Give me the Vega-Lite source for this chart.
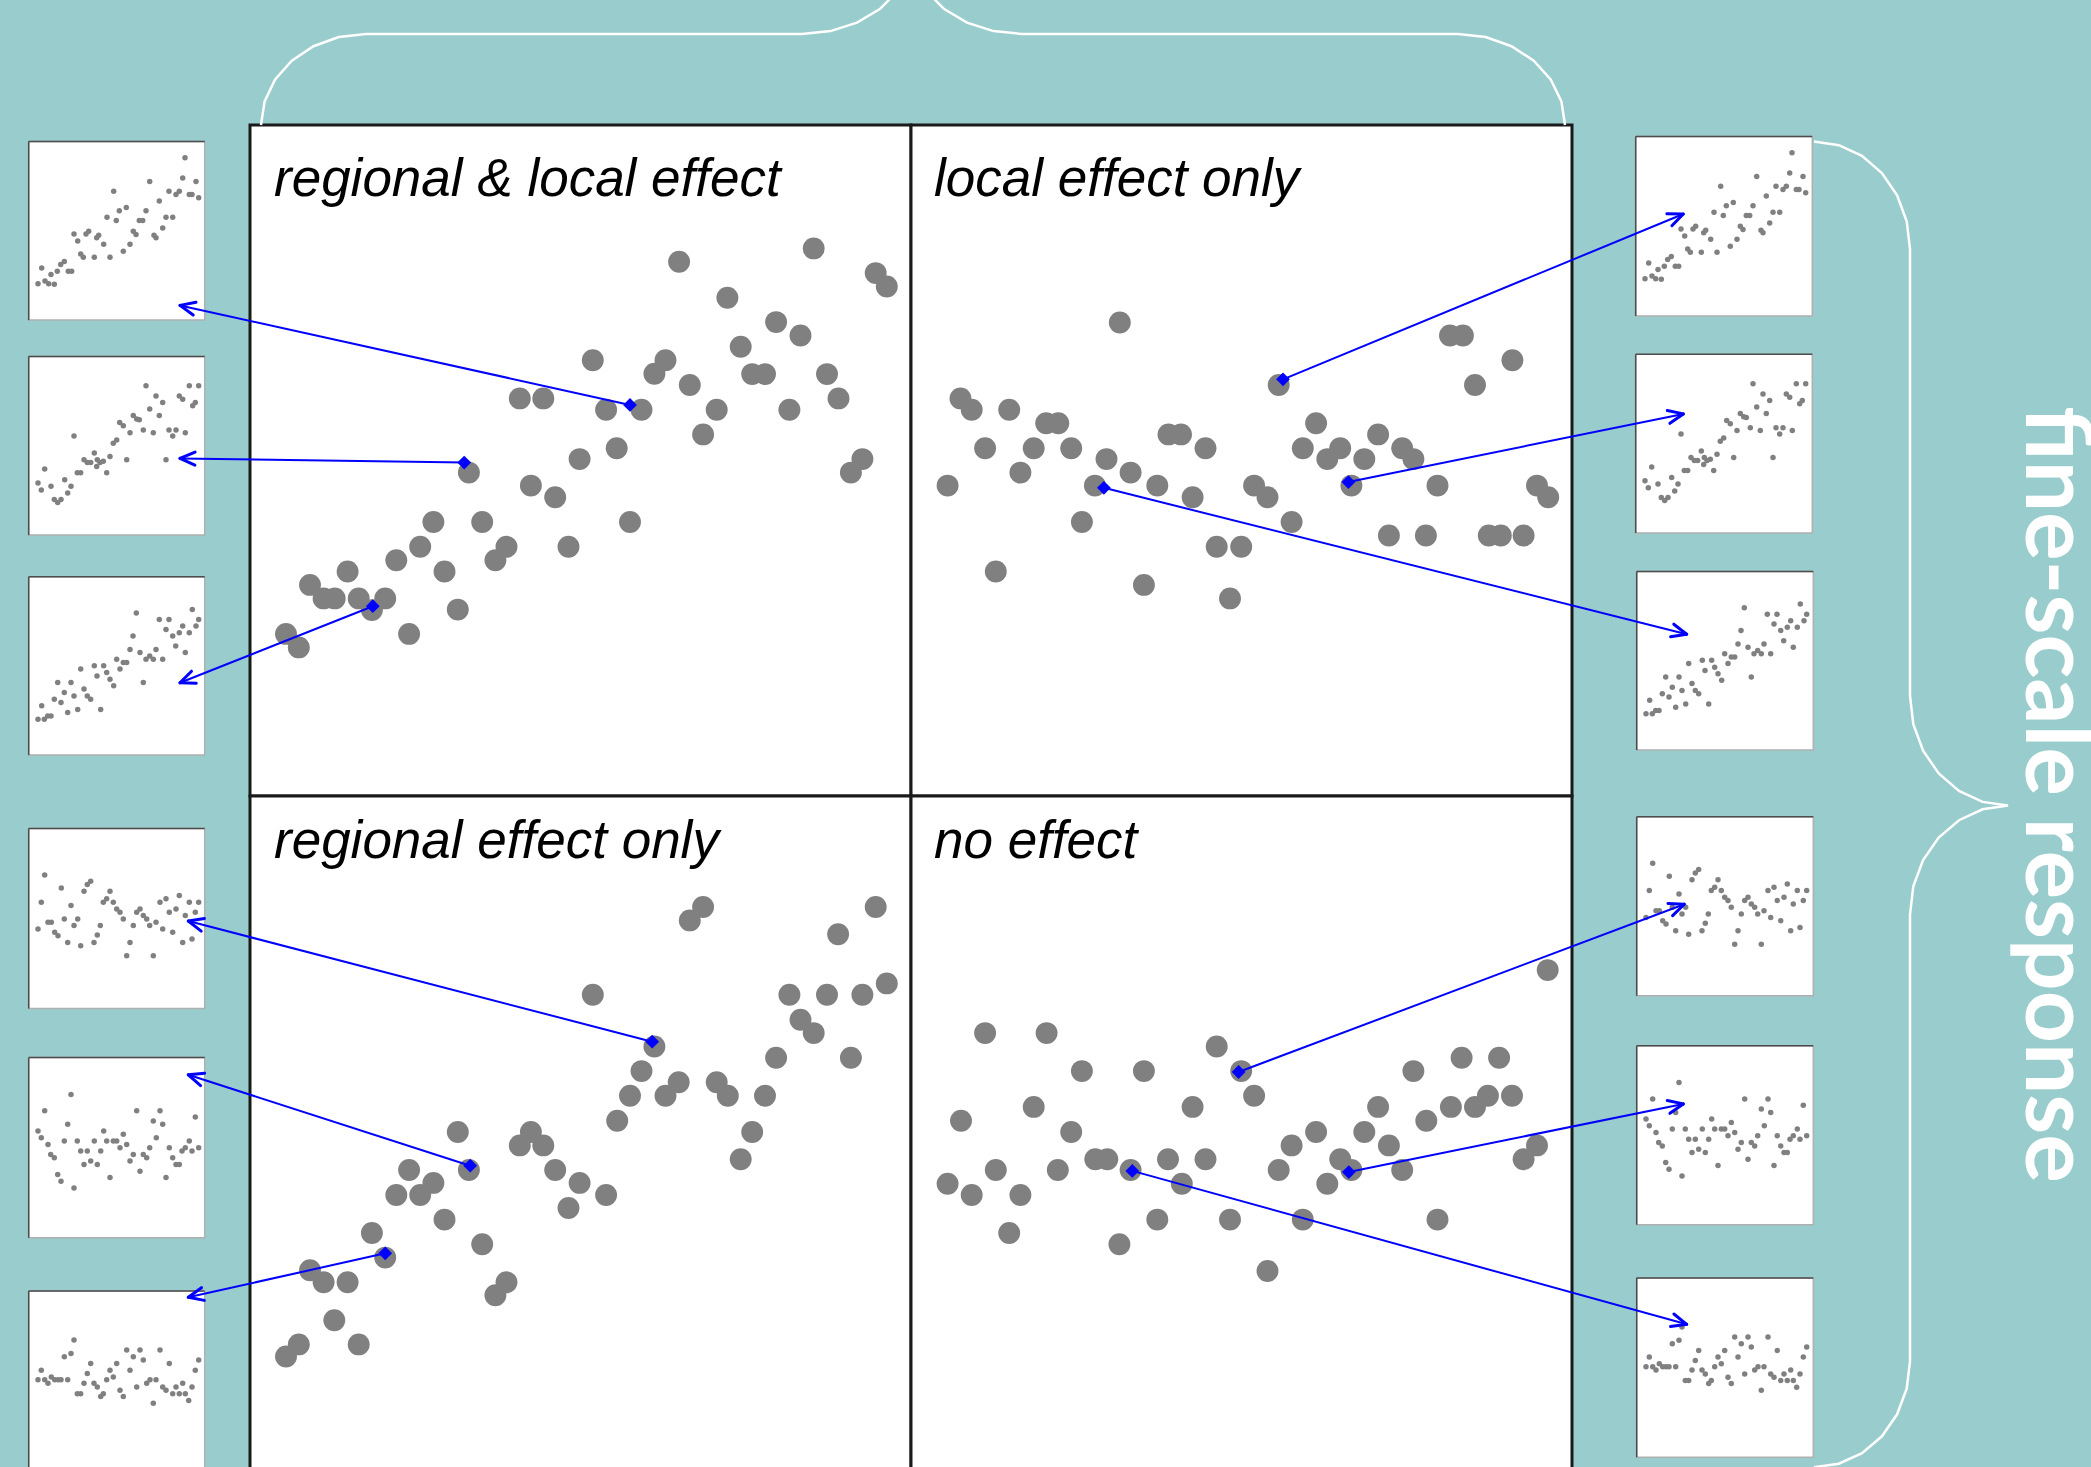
{
  "$schema": "https://vega.github.io/schema/vega-lite/v6.json",
  "width": 2091,
  "height": 1467,
  "autosize": {"type": "fit", "contains": "padding"},
  "padding": 0,
  "background": "#99CCCC",
  "config": {"view": {"stroke": null}},
  "datasets": {
    "frames": [
      {"x": 250, "x2": 911, "y": 125, "y2": 796},
      {"x": 911, "x2": 1572, "y": 125, "y2": 796},
      {"x": 250, "x2": 911, "y": 796, "y2": 1480},
      {"x": 911, "x2": 1572, "y": 796, "y2": 1480}
    ],
    "thumbs": [
      {"x": 28.7, "x2": 204.7, "y": 141.4, "y2": 320.1},
      {"x": 28.7, "x2": 204.7, "y": 356.4, "y2": 535.1},
      {"x": 28.7, "x2": 204.7, "y": 576.8, "y2": 755.1},
      {"x": 28.7, "x2": 204.7, "y": 828.4, "y2": 1008.6},
      {"x": 28.7, "x2": 204.7, "y": 1057.6, "y2": 1237.8},
      {"x": 28.7, "x2": 204.7, "y": 1291.0, "y2": 1470.0},
      {"x": 1635.7, "x2": 1812.3, "y": 136.4, "y2": 316.0},
      {"x": 1635.7, "x2": 1812.3, "y": 354.3, "y2": 533.0},
      {"x": 1636.7, "x2": 1813.3, "y": 571.4, "y2": 750.1},
      {"x": 1636.7, "x2": 1813.3, "y": 816.8, "y2": 995.8},
      {"x": 1636.7, "x2": 1813.3, "y": 1045.7, "y2": 1224.7},
      {"x": 1636.7, "x2": 1813.3, "y": 1277.9, "y2": 1457.3}
    ],
    "braces": [
      {"brace": "top", "i": 0, "x": 261, "y": 125},
      {"brace": "top", "i": 1, "x": 264.6, "y": 101.4},
      {"brace": "top", "i": 2, "x": 275.1, "y": 79.5},
      {"brace": "top", "i": 3, "x": 291.8, "y": 60.7},
      {"brace": "top", "i": 4, "x": 313.5, "y": 46.2},
      {"brace": "top", "i": 5, "x": 338.8, "y": 37.1},
      {"brace": "top", "i": 6, "x": 366, "y": 34},
      {"brace": "top", "i": 7, "x": 802, "y": 34},
      {"brace": "top", "i": 8, "x": 830.5, "y": 31.1},
      {"brace": "top", "i": 9, "x": 857, "y": 22.6},
      {"brace": "top", "i": 10, "x": 879.8, "y": 9.1},
      {"brace": "top", "i": 11, "x": 897.3, "y": -8.5},
      {"brace": "top", "i": 12, "x": 908.3, "y": -29.0},
      {"brace": "top", "i": 13, "x": 912, "y": -51},
      {"brace": "top", "i": 14, "x": 915.7, "y": -29.0},
      {"brace": "top", "i": 15, "x": 926.7, "y": -8.5},
      {"brace": "top", "i": 16, "x": 944.2, "y": 9.1},
      {"brace": "top", "i": 17, "x": 967, "y": 22.6},
      {"brace": "top", "i": 18, "x": 993.5, "y": 31.1},
      {"brace": "top", "i": 19, "x": 1022, "y": 34},
      {"brace": "top", "i": 20, "x": 1458, "y": 34},
      {"brace": "top", "i": 21, "x": 1485.7, "y": 37.1},
      {"brace": "top", "i": 22, "x": 1511.5, "y": 46.2},
      {"brace": "top", "i": 23, "x": 1533.7, "y": 60.7},
      {"brace": "top", "i": 24, "x": 1550.7, "y": 79.5},
      {"brace": "top", "i": 25, "x": 1561.4, "y": 101.4},
      {"brace": "top", "i": 26, "x": 1565, "y": 125},
      {"brace": "side", "i": 0, "x": 1814, "y": 141.5},
      {"brace": "side", "i": 1, "x": 1838.8, "y": 145.2},
      {"brace": "side", "i": 2, "x": 1862, "y": 155.9},
      {"brace": "side", "i": 3, "x": 1881.9, "y": 173.0},
      {"brace": "side", "i": 4, "x": 1897.1, "y": 195.3},
      {"brace": "side", "i": 5, "x": 1906.7, "y": 221.2},
      {"brace": "side", "i": 6, "x": 1910, "y": 249},
      {"brace": "side", "i": 7, "x": 1910, "y": 695.6},
      {"brace": "side", "i": 8, "x": 1913.3, "y": 724.1},
      {"brace": "side", "i": 9, "x": 1923.1, "y": 750.6},
      {"brace": "side", "i": 10, "x": 1938.7, "y": 773.4},
      {"brace": "side", "i": 11, "x": 1959, "y": 790.9},
      {"brace": "side", "i": 12, "x": 1982.6, "y": 801.9},
      {"brace": "side", "i": 13, "x": 2008, "y": 805.6},
      {"brace": "side", "i": 14, "x": 1982.6, "y": 809.3},
      {"brace": "side", "i": 15, "x": 1959, "y": 820.2},
      {"brace": "side", "i": 16, "x": 1938.7, "y": 837.5},
      {"brace": "side", "i": 17, "x": 1923.1, "y": 860.1},
      {"brace": "side", "i": 18, "x": 1913.3, "y": 886.4},
      {"brace": "side", "i": 19, "x": 1910, "y": 914.6},
      {"brace": "side", "i": 20, "x": 1910, "y": 1361.3},
      {"brace": "side", "i": 21, "x": 1906.7, "y": 1388.7},
      {"brace": "side", "i": 22, "x": 1897.1, "y": 1414.3},
      {"brace": "side", "i": 23, "x": 1881.9, "y": 1436.3},
      {"brace": "side", "i": 24, "x": 1862, "y": 1453.1},
      {"brace": "side", "i": 25, "x": 1838.8, "y": 1463.7},
      {"brace": "side", "i": 26, "x": 1814, "y": 1467.3}
    ],
    "dots": [
      {"x": 679.1, "y": 261.8}, {"x": 813.7, "y": 248.4}, {"x": 875.7, "y": 273.1}, {"x": 886.8, "y": 286.5},
      {"x": 727.4, "y": 297.8}, {"x": 776.1, "y": 322.1}, {"x": 800.5, "y": 335.5}, {"x": 740.7, "y": 346.8},
      {"x": 592.8, "y": 360.3}, {"x": 665.5, "y": 360.3}, {"x": 654.4, "y": 373.7}, {"x": 752.2, "y": 374.1},
      {"x": 765.0, "y": 374.1}, {"x": 827.0, "y": 374.1}, {"x": 689.8, "y": 385.0}, {"x": 519.8, "y": 398.4},
      {"x": 543.3, "y": 398.4}, {"x": 838.5, "y": 398.4}, {"x": 606.1, "y": 409.7}, {"x": 641.5, "y": 409.7},
      {"x": 716.7, "y": 409.7}, {"x": 789.4, "y": 409.7}, {"x": 703.1, "y": 434.4}, {"x": 616.7, "y": 448.3},
      {"x": 579.6, "y": 459.1}, {"x": 862.4, "y": 459.1}, {"x": 850.9, "y": 472.6}, {"x": 468.9, "y": 472.6},
      {"x": 530.9, "y": 485.6}, {"x": 555.2, "y": 497.3}, {"x": 433.4, "y": 522.0}, {"x": 482.2, "y": 522.0},
      {"x": 630.0, "y": 522.0}, {"x": 420.2, "y": 546.8}, {"x": 506.5, "y": 546.8}, {"x": 568.5, "y": 546.8},
      {"x": 495.4, "y": 560.2}, {"x": 396.3, "y": 560.2}, {"x": 347.6, "y": 571.5}, {"x": 444.5, "y": 571.5},
      {"x": 310.0, "y": 584.9}, {"x": 323.6, "y": 598.4}, {"x": 334.7, "y": 598.4}, {"x": 358.7, "y": 598.4},
      {"x": 385.2, "y": 598.4}, {"x": 371.9, "y": 610.1}, {"x": 457.8, "y": 609.6}, {"x": 286.0, "y": 633.9},
      {"x": 409.1, "y": 633.9}, {"x": 298.8, "y": 647.4},
      {"x": 1119.8, "y": 322.5}, {"x": 1450.0, "y": 335.5}, {"x": 1462.9, "y": 335.5}, {"x": 1512.4, "y": 360.3},
      {"x": 1475.0, "y": 385.0}, {"x": 1278.7, "y": 385.0}, {"x": 960.5, "y": 398.4}, {"x": 971.7, "y": 409.7},
      {"x": 1009.2, "y": 409.7}, {"x": 1046.2, "y": 423.2}, {"x": 1058.3, "y": 423.2}, {"x": 1316.1, "y": 423.2},
      {"x": 985.1, "y": 448.3}, {"x": 1033.7, "y": 448.3}, {"x": 1071.2, "y": 448.3}, {"x": 1168.5, "y": 434.4},
      {"x": 1181.0, "y": 434.4}, {"x": 1205.5, "y": 448.3}, {"x": 1378.1, "y": 434.4}, {"x": 1302.8, "y": 448.3},
      {"x": 1340.2, "y": 448.3}, {"x": 1327.3, "y": 459.1}, {"x": 1364.3, "y": 459.1}, {"x": 1402.2, "y": 448.3},
      {"x": 1413.4, "y": 459.1}, {"x": 1106.5, "y": 459.1}, {"x": 1020.4, "y": 472.6}, {"x": 1130.6, "y": 472.6},
      {"x": 947.6, "y": 485.6}, {"x": 1094.9, "y": 485.6}, {"x": 1157.3, "y": 485.6}, {"x": 1192.6, "y": 497.3},
      {"x": 1254.1, "y": 485.6}, {"x": 1267.5, "y": 497.3}, {"x": 1351.4, "y": 485.6}, {"x": 1437.5, "y": 485.6},
      {"x": 1537.0, "y": 485.6}, {"x": 1548.2, "y": 497.3}, {"x": 1081.9, "y": 522.0}, {"x": 1291.6, "y": 522.0},
      {"x": 1388.9, "y": 535.5}, {"x": 1425.9, "y": 535.5}, {"x": 1488.8, "y": 535.5}, {"x": 1500.8, "y": 535.5},
      {"x": 1523.6, "y": 535.5}, {"x": 1216.7, "y": 546.8}, {"x": 1241.2, "y": 546.8}, {"x": 995.8, "y": 571.5},
      {"x": 1143.9, "y": 584.9}, {"x": 1230.0, "y": 598.4},
      {"x": 703.1, "y": 907.0}, {"x": 689.8, "y": 920.4}, {"x": 875.7, "y": 907.0}, {"x": 838.1, "y": 934.2},
      {"x": 592.8, "y": 994.7}, {"x": 789.4, "y": 994.7}, {"x": 827.0, "y": 994.7}, {"x": 862.4, "y": 994.7},
      {"x": 886.8, "y": 983.4}, {"x": 800.5, "y": 1019.7}, {"x": 813.7, "y": 1033.1}, {"x": 776.1, "y": 1057.7},
      {"x": 850.9, "y": 1057.7}, {"x": 654.4, "y": 1046.5}, {"x": 641.5, "y": 1071.1}, {"x": 630.0, "y": 1095.7},
      {"x": 678.7, "y": 1082.3}, {"x": 665.5, "y": 1095.7}, {"x": 716.7, "y": 1082.3}, {"x": 727.8, "y": 1095.7},
      {"x": 765.0, "y": 1095.7}, {"x": 617.2, "y": 1120.8}, {"x": 752.2, "y": 1132.0}, {"x": 740.7, "y": 1159.2},
      {"x": 457.8, "y": 1132.0}, {"x": 530.9, "y": 1132.0}, {"x": 519.8, "y": 1145.4}, {"x": 543.3, "y": 1145.4},
      {"x": 468.9, "y": 1170.0}, {"x": 409.1, "y": 1170.0}, {"x": 433.4, "y": 1182.9}, {"x": 420.2, "y": 1195.0},
      {"x": 396.3, "y": 1195.0}, {"x": 555.2, "y": 1170.0}, {"x": 579.6, "y": 1182.9}, {"x": 606.1, "y": 1195.0},
      {"x": 568.5, "y": 1208.0}, {"x": 444.5, "y": 1219.6}, {"x": 371.9, "y": 1233.0}, {"x": 482.2, "y": 1244.3},
      {"x": 385.2, "y": 1257.6}, {"x": 310.0, "y": 1270.2}, {"x": 323.6, "y": 1282.3}, {"x": 347.6, "y": 1282.3},
      {"x": 506.5, "y": 1282.3}, {"x": 495.4, "y": 1295.2}, {"x": 334.3, "y": 1320.3}, {"x": 298.8, "y": 1344.4},
      {"x": 286.0, "y": 1356.5}, {"x": 358.7, "y": 1344.4},
      {"x": 985.1, "y": 1033.1}, {"x": 1046.6, "y": 1033.1}, {"x": 1216.7, "y": 1046.5}, {"x": 1081.9, "y": 1071.1},
      {"x": 1143.9, "y": 1071.1}, {"x": 1241.2, "y": 1071.1}, {"x": 1254.1, "y": 1095.7}, {"x": 1413.4, "y": 1071.1},
      {"x": 1461.6, "y": 1057.7}, {"x": 1499.1, "y": 1057.7}, {"x": 1547.7, "y": 970.1}, {"x": 1033.7, "y": 1106.9},
      {"x": 1192.6, "y": 1106.9}, {"x": 1378.1, "y": 1106.9}, {"x": 1450.9, "y": 1106.9}, {"x": 1475.0, "y": 1106.9},
      {"x": 1487.9, "y": 1095.7}, {"x": 1512.0, "y": 1095.7}, {"x": 1426.3, "y": 1120.8}, {"x": 961.0, "y": 1120.8},
      {"x": 1071.2, "y": 1132.0}, {"x": 1316.1, "y": 1132.0}, {"x": 1364.3, "y": 1132.0}, {"x": 1291.6, "y": 1145.4},
      {"x": 1388.9, "y": 1145.4}, {"x": 1537.0, "y": 1145.4}, {"x": 1523.6, "y": 1159.2}, {"x": 1095.3, "y": 1159.2},
      {"x": 1107.3, "y": 1159.2}, {"x": 1168.0, "y": 1159.2}, {"x": 1205.5, "y": 1159.2}, {"x": 1340.2, "y": 1159.2},
      {"x": 1351.4, "y": 1170.0}, {"x": 1402.2, "y": 1170.0}, {"x": 995.8, "y": 1170.0}, {"x": 1057.8, "y": 1170.0},
      {"x": 1130.6, "y": 1170.0}, {"x": 1278.7, "y": 1170.0}, {"x": 947.6, "y": 1183.8}, {"x": 971.7, "y": 1195.0},
      {"x": 1020.4, "y": 1195.0}, {"x": 1181.8, "y": 1183.8}, {"x": 1327.3, "y": 1183.8}, {"x": 1009.2, "y": 1233.0},
      {"x": 1157.3, "y": 1219.6}, {"x": 1230.0, "y": 1219.6}, {"x": 1302.8, "y": 1219.6}, {"x": 1437.5, "y": 1219.6},
      {"x": 1119.4, "y": 1244.3}, {"x": 1267.5, "y": 1271.0}
    ],
    "minidots": [
      {"x": 185.0, "y": 157.7}, {"x": 149.7, "y": 181.4}, {"x": 113.7, "y": 191.2}, {"x": 182.7, "y": 178.1}, {"x": 196.0, "y": 181.4},
      {"x": 169.0, "y": 191.2}, {"x": 176.0, "y": 194.5}, {"x": 179.3, "y": 191.2}, {"x": 189.3, "y": 194.5}, {"x": 192.0, "y": 194.5},
      {"x": 198.7, "y": 197.7}, {"x": 159.3, "y": 201.0}, {"x": 126.3, "y": 207.5}, {"x": 119.3, "y": 210.8}, {"x": 146.0, "y": 210.8},
      {"x": 107.0, "y": 217.3}, {"x": 116.3, "y": 220.6}, {"x": 166.0, "y": 217.3}, {"x": 172.7, "y": 217.3}, {"x": 139.3, "y": 220.6},
      {"x": 142.7, "y": 220.6}, {"x": 162.7, "y": 227.9}, {"x": 74.0, "y": 234.0}, {"x": 88.7, "y": 231.2}, {"x": 86.0, "y": 234.0},
      {"x": 98.7, "y": 235.3}, {"x": 96.7, "y": 237.7}, {"x": 133.3, "y": 231.2}, {"x": 136.0, "y": 234.4}, {"x": 154.0, "y": 235.3},
      {"x": 156.0, "y": 237.7}, {"x": 77.7, "y": 241.0}, {"x": 103.7, "y": 244.2}, {"x": 130.0, "y": 244.2}, {"x": 123.3, "y": 251.2},
      {"x": 80.7, "y": 254.0}, {"x": 83.3, "y": 257.3}, {"x": 94.3, "y": 257.3}, {"x": 110.0, "y": 257.3}, {"x": 64.3, "y": 261.4},
      {"x": 60.7, "y": 264.6}, {"x": 57.3, "y": 271.2}, {"x": 68.3, "y": 271.2}, {"x": 71.7, "y": 271.2}, {"x": 41.7, "y": 267.9},
      {"x": 51.0, "y": 274.4}, {"x": 45.0, "y": 281.0}, {"x": 38.0, "y": 283.8}, {"x": 48.7, "y": 283.8}, {"x": 54.3, "y": 284.2},
      {"x": 146.0, "y": 385.8}, {"x": 189.3, "y": 385.8}, {"x": 198.7, "y": 385.8}, {"x": 156.0, "y": 396.0}, {"x": 162.7, "y": 402.5},
      {"x": 179.3, "y": 396.0}, {"x": 182.7, "y": 399.3}, {"x": 192.7, "y": 405.8}, {"x": 195.3, "y": 402.5}, {"x": 149.7, "y": 409.1},
      {"x": 159.3, "y": 415.6}, {"x": 74.0, "y": 436.0}, {"x": 119.7, "y": 422.5}, {"x": 123.3, "y": 425.8}, {"x": 133.3, "y": 415.6},
      {"x": 136.7, "y": 418.9}, {"x": 139.3, "y": 419.7}, {"x": 130.0, "y": 432.7}, {"x": 143.3, "y": 429.9}, {"x": 153.3, "y": 432.7},
      {"x": 169.0, "y": 429.9}, {"x": 176.0, "y": 429.9}, {"x": 172.7, "y": 436.0}, {"x": 185.3, "y": 432.7}, {"x": 116.7, "y": 440.1},
      {"x": 113.3, "y": 443.3}, {"x": 94.3, "y": 453.1}, {"x": 84.0, "y": 459.7}, {"x": 87.3, "y": 462.5}, {"x": 90.7, "y": 462.5},
      {"x": 97.3, "y": 459.7}, {"x": 100.0, "y": 462.5}, {"x": 103.3, "y": 461.3}, {"x": 110.0, "y": 456.4}, {"x": 96.7, "y": 466.6},
      {"x": 106.7, "y": 472.7}, {"x": 126.7, "y": 459.7}, {"x": 166.0, "y": 459.7}, {"x": 44.7, "y": 469.0}, {"x": 77.3, "y": 472.7},
      {"x": 80.7, "y": 472.7}, {"x": 64.7, "y": 479.7}, {"x": 38.0, "y": 482.9}, {"x": 41.3, "y": 489.9}, {"x": 51.0, "y": 486.2},
      {"x": 71.0, "y": 486.2}, {"x": 67.7, "y": 493.1}, {"x": 54.3, "y": 499.6}, {"x": 57.7, "y": 502.5}, {"x": 61.0, "y": 499.6},
      {"x": 192.3, "y": 609.4}, {"x": 136.3, "y": 613.1}, {"x": 159.3, "y": 619.6}, {"x": 169.0, "y": 619.6}, {"x": 198.7, "y": 619.6},
      {"x": 166.0, "y": 629.4}, {"x": 182.7, "y": 626.1}, {"x": 179.3, "y": 632.7}, {"x": 172.7, "y": 635.9}, {"x": 189.3, "y": 632.7},
      {"x": 196.0, "y": 626.1}, {"x": 133.0, "y": 635.9}, {"x": 175.7, "y": 646.1}, {"x": 185.3, "y": 652.6}, {"x": 130.0, "y": 649.4},
      {"x": 140.0, "y": 652.6}, {"x": 156.0, "y": 649.4}, {"x": 146.0, "y": 659.2}, {"x": 149.7, "y": 655.9}, {"x": 153.3, "y": 659.2},
      {"x": 162.7, "y": 659.2}, {"x": 116.7, "y": 659.2}, {"x": 123.3, "y": 662.4}, {"x": 126.7, "y": 662.4}, {"x": 120.0, "y": 669.0},
      {"x": 80.7, "y": 669.0}, {"x": 94.3, "y": 665.7}, {"x": 103.7, "y": 665.7}, {"x": 97.0, "y": 675.9}, {"x": 106.7, "y": 672.6},
      {"x": 110.0, "y": 679.2}, {"x": 113.7, "y": 685.7}, {"x": 143.3, "y": 682.4}, {"x": 57.7, "y": 682.4}, {"x": 71.0, "y": 682.4},
      {"x": 64.3, "y": 692.6}, {"x": 74.0, "y": 695.9}, {"x": 84.0, "y": 689.0}, {"x": 87.3, "y": 695.9}, {"x": 90.7, "y": 699.2},
      {"x": 54.3, "y": 699.2}, {"x": 61.0, "y": 702.4}, {"x": 77.7, "y": 709.4}, {"x": 67.7, "y": 712.6}, {"x": 100.7, "y": 709.4},
      {"x": 41.7, "y": 705.7}, {"x": 51.0, "y": 715.9}, {"x": 47.7, "y": 715.9}, {"x": 44.3, "y": 719.2}, {"x": 38.0, "y": 719.2},
      {"x": 44.7, "y": 874.9}, {"x": 61.3, "y": 887.9}, {"x": 84.0, "y": 891.3}, {"x": 87.3, "y": 884.6}, {"x": 90.7, "y": 881.2},
      {"x": 110.0, "y": 891.3}, {"x": 41.3, "y": 902.2}, {"x": 71.0, "y": 905.5}, {"x": 103.3, "y": 902.2}, {"x": 106.7, "y": 898.8},
      {"x": 113.3, "y": 902.2}, {"x": 116.7, "y": 908.9}, {"x": 120.0, "y": 912.2}, {"x": 123.3, "y": 918.9}, {"x": 136.7, "y": 912.2},
      {"x": 140.0, "y": 908.9}, {"x": 143.3, "y": 915.6}, {"x": 146.7, "y": 918.9}, {"x": 160.0, "y": 902.2}, {"x": 166.0, "y": 898.8},
      {"x": 179.3, "y": 895.5}, {"x": 189.3, "y": 902.2}, {"x": 198.7, "y": 902.2}, {"x": 169.3, "y": 912.2}, {"x": 176.0, "y": 908.9},
      {"x": 185.3, "y": 915.6}, {"x": 195.3, "y": 912.2}, {"x": 48.0, "y": 922.3}, {"x": 51.3, "y": 922.3}, {"x": 64.3, "y": 918.9},
      {"x": 77.7, "y": 918.9}, {"x": 74.0, "y": 925.6}, {"x": 100.3, "y": 925.6}, {"x": 133.3, "y": 925.6}, {"x": 149.7, "y": 925.6},
      {"x": 156.0, "y": 922.3}, {"x": 162.7, "y": 929.0}, {"x": 172.7, "y": 932.3}, {"x": 38.0, "y": 929.0}, {"x": 54.7, "y": 932.3},
      {"x": 58.0, "y": 935.7}, {"x": 97.3, "y": 934.9}, {"x": 94.0, "y": 942.4}, {"x": 67.7, "y": 942.4}, {"x": 80.7, "y": 945.8},
      {"x": 130.0, "y": 942.4}, {"x": 182.7, "y": 942.4}, {"x": 192.0, "y": 939.1}, {"x": 126.7, "y": 955.8}, {"x": 153.3, "y": 955.8},
      {"x": 71.0, "y": 1094.5}, {"x": 44.7, "y": 1110.8}, {"x": 136.7, "y": 1110.8}, {"x": 160.0, "y": 1110.8}, {"x": 195.3, "y": 1117.1},
      {"x": 153.3, "y": 1120.9}, {"x": 162.7, "y": 1124.3}, {"x": 67.7, "y": 1124.3}, {"x": 38.0, "y": 1131.0}, {"x": 41.3, "y": 1137.7},
      {"x": 103.7, "y": 1131.0}, {"x": 48.0, "y": 1144.4}, {"x": 64.3, "y": 1141.0}, {"x": 77.3, "y": 1141.0}, {"x": 94.3, "y": 1141.0},
      {"x": 106.7, "y": 1141.0}, {"x": 113.3, "y": 1141.0}, {"x": 116.7, "y": 1141.0}, {"x": 123.3, "y": 1134.3}, {"x": 126.7, "y": 1144.4},
      {"x": 120.0, "y": 1147.7}, {"x": 156.3, "y": 1137.7}, {"x": 149.7, "y": 1147.7}, {"x": 169.3, "y": 1147.7}, {"x": 189.3, "y": 1141.0},
      {"x": 185.3, "y": 1147.7}, {"x": 182.0, "y": 1151.1}, {"x": 192.0, "y": 1151.1}, {"x": 198.7, "y": 1147.7}, {"x": 80.7, "y": 1151.1},
      {"x": 87.3, "y": 1151.1}, {"x": 100.7, "y": 1151.1}, {"x": 133.3, "y": 1154.4}, {"x": 143.3, "y": 1154.4}, {"x": 146.7, "y": 1157.8},
      {"x": 172.7, "y": 1157.8}, {"x": 50.7, "y": 1154.4}, {"x": 54.3, "y": 1157.8}, {"x": 90.7, "y": 1161.1}, {"x": 84.0, "y": 1164.5},
      {"x": 97.3, "y": 1164.5}, {"x": 130.0, "y": 1161.1}, {"x": 176.0, "y": 1164.5}, {"x": 179.3, "y": 1164.5}, {"x": 140.0, "y": 1171.2},
      {"x": 110.0, "y": 1177.5}, {"x": 166.0, "y": 1177.5}, {"x": 57.7, "y": 1174.5}, {"x": 61.0, "y": 1181.2}, {"x": 74.0, "y": 1187.9},
      {"x": 74.0, "y": 1340.0}, {"x": 71.0, "y": 1353.4}, {"x": 64.3, "y": 1356.8}, {"x": 126.7, "y": 1350.1}, {"x": 140.0, "y": 1350.1},
      {"x": 160.0, "y": 1350.1}, {"x": 133.3, "y": 1356.8}, {"x": 143.3, "y": 1360.1}, {"x": 198.7, "y": 1360.1}, {"x": 116.7, "y": 1363.5},
      {"x": 90.7, "y": 1363.5}, {"x": 169.3, "y": 1363.5}, {"x": 41.3, "y": 1370.2}, {"x": 130.0, "y": 1370.2}, {"x": 195.3, "y": 1370.2},
      {"x": 110.0, "y": 1370.2}, {"x": 87.3, "y": 1373.6}, {"x": 113.3, "y": 1376.9}, {"x": 106.7, "y": 1379.8}, {"x": 38.0, "y": 1379.8},
      {"x": 44.7, "y": 1379.8}, {"x": 48.0, "y": 1383.2}, {"x": 51.3, "y": 1376.9}, {"x": 54.7, "y": 1379.8}, {"x": 58.0, "y": 1379.8},
      {"x": 61.0, "y": 1379.8}, {"x": 67.7, "y": 1379.8}, {"x": 84.0, "y": 1383.2}, {"x": 94.0, "y": 1383.2}, {"x": 97.3, "y": 1387.0},
      {"x": 146.7, "y": 1383.2}, {"x": 150.0, "y": 1379.8}, {"x": 156.0, "y": 1379.8}, {"x": 136.7, "y": 1387.0}, {"x": 162.7, "y": 1387.0},
      {"x": 166.0, "y": 1390.3}, {"x": 176.0, "y": 1387.0}, {"x": 182.7, "y": 1383.2}, {"x": 192.0, "y": 1387.0}, {"x": 172.7, "y": 1393.7},
      {"x": 179.3, "y": 1393.7}, {"x": 185.3, "y": 1393.7}, {"x": 188.7, "y": 1400.4}, {"x": 77.3, "y": 1393.7}, {"x": 80.7, "y": 1393.7},
      {"x": 103.3, "y": 1393.7}, {"x": 100.7, "y": 1396.6}, {"x": 120.0, "y": 1390.3}, {"x": 123.3, "y": 1396.6}, {"x": 153.3, "y": 1403.3},
      {"x": 1792.0, "y": 152.7}, {"x": 1756.7, "y": 176.4}, {"x": 1720.7, "y": 186.2}, {"x": 1789.7, "y": 173.1}, {"x": 1803.0, "y": 176.4},
      {"x": 1776.0, "y": 186.2}, {"x": 1783.0, "y": 189.5}, {"x": 1786.3, "y": 186.2}, {"x": 1796.3, "y": 189.5}, {"x": 1799.0, "y": 189.5},
      {"x": 1805.7, "y": 192.7}, {"x": 1766.3, "y": 196.0}, {"x": 1733.3, "y": 202.5}, {"x": 1726.3, "y": 205.8}, {"x": 1753.0, "y": 205.8},
      {"x": 1714.0, "y": 212.3}, {"x": 1723.3, "y": 215.6}, {"x": 1773.0, "y": 212.3}, {"x": 1779.7, "y": 212.3}, {"x": 1746.3, "y": 215.6},
      {"x": 1749.7, "y": 215.6}, {"x": 1769.7, "y": 222.9}, {"x": 1681.0, "y": 229.0}, {"x": 1695.7, "y": 226.2}, {"x": 1693.0, "y": 229.0},
      {"x": 1705.7, "y": 230.3}, {"x": 1703.7, "y": 232.7}, {"x": 1740.3, "y": 226.2}, {"x": 1743.0, "y": 229.4}, {"x": 1761.0, "y": 230.3},
      {"x": 1763.0, "y": 232.7}, {"x": 1684.7, "y": 236.0}, {"x": 1710.7, "y": 239.2}, {"x": 1737.0, "y": 239.2}, {"x": 1730.3, "y": 246.2},
      {"x": 1687.7, "y": 249.0}, {"x": 1690.3, "y": 252.3}, {"x": 1701.3, "y": 252.3}, {"x": 1717.0, "y": 252.3}, {"x": 1671.3, "y": 256.4},
      {"x": 1667.7, "y": 259.6}, {"x": 1664.3, "y": 266.2}, {"x": 1675.3, "y": 266.2}, {"x": 1678.7, "y": 266.2}, {"x": 1648.7, "y": 262.9},
      {"x": 1658.0, "y": 269.4}, {"x": 1652.0, "y": 276.0}, {"x": 1645.0, "y": 278.8}, {"x": 1655.7, "y": 278.8}, {"x": 1661.3, "y": 279.2},
      {"x": 1753.0, "y": 383.7}, {"x": 1796.3, "y": 383.7}, {"x": 1805.7, "y": 383.7}, {"x": 1763.0, "y": 393.9}, {"x": 1769.7, "y": 400.4},
      {"x": 1786.3, "y": 393.9}, {"x": 1789.7, "y": 397.2}, {"x": 1799.7, "y": 403.7}, {"x": 1802.3, "y": 400.4}, {"x": 1756.7, "y": 407.0},
      {"x": 1766.3, "y": 413.5}, {"x": 1681.0, "y": 433.9}, {"x": 1726.7, "y": 420.4}, {"x": 1730.3, "y": 423.7}, {"x": 1740.3, "y": 413.5},
      {"x": 1743.7, "y": 416.8}, {"x": 1746.3, "y": 417.6}, {"x": 1737.0, "y": 430.6}, {"x": 1750.3, "y": 427.8}, {"x": 1760.3, "y": 430.6},
      {"x": 1776.0, "y": 427.8}, {"x": 1783.0, "y": 427.8}, {"x": 1779.7, "y": 433.9}, {"x": 1792.3, "y": 430.6}, {"x": 1723.7, "y": 438.0},
      {"x": 1720.3, "y": 441.2}, {"x": 1701.3, "y": 451.0}, {"x": 1691.0, "y": 457.6}, {"x": 1694.3, "y": 460.4}, {"x": 1697.7, "y": 460.4},
      {"x": 1704.3, "y": 457.6}, {"x": 1707.0, "y": 460.4}, {"x": 1710.3, "y": 459.2}, {"x": 1717.0, "y": 454.3}, {"x": 1703.7, "y": 464.5},
      {"x": 1713.7, "y": 470.6}, {"x": 1733.7, "y": 457.6}, {"x": 1773.0, "y": 457.6}, {"x": 1651.7, "y": 466.9}, {"x": 1684.3, "y": 470.6},
      {"x": 1687.7, "y": 470.6}, {"x": 1671.7, "y": 477.6}, {"x": 1645.0, "y": 480.8}, {"x": 1648.3, "y": 487.8}, {"x": 1658.0, "y": 484.1},
      {"x": 1678.0, "y": 484.1}, {"x": 1674.7, "y": 491.0}, {"x": 1661.3, "y": 497.5}, {"x": 1664.7, "y": 500.4}, {"x": 1668.0, "y": 497.5},
      {"x": 1800.3, "y": 604.0}, {"x": 1744.3, "y": 607.7}, {"x": 1767.3, "y": 614.2}, {"x": 1777.0, "y": 614.2}, {"x": 1806.7, "y": 614.2},
      {"x": 1774.0, "y": 624.0}, {"x": 1790.7, "y": 620.7}, {"x": 1787.3, "y": 627.3}, {"x": 1780.7, "y": 630.5}, {"x": 1797.3, "y": 627.3},
      {"x": 1804.0, "y": 620.7}, {"x": 1741.0, "y": 630.5}, {"x": 1783.7, "y": 640.7}, {"x": 1793.3, "y": 647.2}, {"x": 1738.0, "y": 644.0},
      {"x": 1748.0, "y": 647.2}, {"x": 1764.0, "y": 644.0}, {"x": 1754.0, "y": 653.8}, {"x": 1757.7, "y": 650.5}, {"x": 1761.3, "y": 653.8},
      {"x": 1770.7, "y": 653.8}, {"x": 1724.7, "y": 653.8}, {"x": 1731.3, "y": 657.0}, {"x": 1734.7, "y": 657.0}, {"x": 1728.0, "y": 663.6},
      {"x": 1688.7, "y": 663.6}, {"x": 1702.3, "y": 660.3}, {"x": 1711.7, "y": 660.3}, {"x": 1705.0, "y": 670.5}, {"x": 1714.7, "y": 667.2},
      {"x": 1718.0, "y": 673.8}, {"x": 1721.7, "y": 680.3}, {"x": 1751.3, "y": 677.0}, {"x": 1665.7, "y": 677.0}, {"x": 1679.0, "y": 677.0},
      {"x": 1672.3, "y": 687.2}, {"x": 1682.0, "y": 690.5}, {"x": 1692.0, "y": 683.6}, {"x": 1695.3, "y": 690.5}, {"x": 1698.7, "y": 693.8},
      {"x": 1662.3, "y": 693.8}, {"x": 1669.0, "y": 697.0}, {"x": 1685.7, "y": 704.0}, {"x": 1675.7, "y": 707.2}, {"x": 1708.7, "y": 704.0},
      {"x": 1649.7, "y": 700.3}, {"x": 1659.0, "y": 710.5}, {"x": 1655.7, "y": 710.5}, {"x": 1652.3, "y": 713.8}, {"x": 1646.0, "y": 713.8},
      {"x": 1652.7, "y": 863.3}, {"x": 1669.3, "y": 876.3}, {"x": 1692.0, "y": 879.7}, {"x": 1695.3, "y": 873.0}, {"x": 1698.7, "y": 869.6},
      {"x": 1718.0, "y": 879.7}, {"x": 1649.3, "y": 890.6}, {"x": 1679.0, "y": 893.9}, {"x": 1711.3, "y": 890.6}, {"x": 1714.7, "y": 887.2},
      {"x": 1721.3, "y": 890.6}, {"x": 1724.7, "y": 897.3}, {"x": 1728.0, "y": 900.6}, {"x": 1731.3, "y": 907.3}, {"x": 1744.7, "y": 900.6},
      {"x": 1748.0, "y": 897.3}, {"x": 1751.3, "y": 904.0}, {"x": 1754.7, "y": 907.3}, {"x": 1768.0, "y": 890.6}, {"x": 1774.0, "y": 887.2},
      {"x": 1787.3, "y": 883.9}, {"x": 1797.3, "y": 890.6}, {"x": 1806.7, "y": 890.6}, {"x": 1777.3, "y": 900.6}, {"x": 1784.0, "y": 897.3},
      {"x": 1793.3, "y": 904.0}, {"x": 1803.3, "y": 900.6}, {"x": 1656.0, "y": 910.7}, {"x": 1659.3, "y": 910.7}, {"x": 1672.3, "y": 907.3},
      {"x": 1685.7, "y": 907.3}, {"x": 1682.0, "y": 914.0}, {"x": 1708.3, "y": 914.0}, {"x": 1741.3, "y": 914.0}, {"x": 1757.7, "y": 914.0},
      {"x": 1764.0, "y": 910.7}, {"x": 1770.7, "y": 917.4}, {"x": 1780.7, "y": 920.7}, {"x": 1646.0, "y": 917.4}, {"x": 1662.7, "y": 920.7},
      {"x": 1666.0, "y": 924.1}, {"x": 1705.3, "y": 923.3}, {"x": 1702.0, "y": 930.8}, {"x": 1675.7, "y": 930.8}, {"x": 1688.7, "y": 934.2},
      {"x": 1738.0, "y": 930.8}, {"x": 1790.7, "y": 930.8}, {"x": 1800.0, "y": 927.5}, {"x": 1734.7, "y": 944.2}, {"x": 1761.3, "y": 944.2},
      {"x": 1679.0, "y": 1082.6}, {"x": 1652.7, "y": 1098.9}, {"x": 1744.7, "y": 1098.9}, {"x": 1768.0, "y": 1098.9}, {"x": 1803.3, "y": 1105.2},
      {"x": 1761.3, "y": 1109.0}, {"x": 1770.7, "y": 1112.4}, {"x": 1675.7, "y": 1112.4}, {"x": 1646.0, "y": 1119.1}, {"x": 1649.3, "y": 1125.8},
      {"x": 1711.7, "y": 1119.1}, {"x": 1656.0, "y": 1132.5}, {"x": 1672.3, "y": 1129.1}, {"x": 1685.3, "y": 1129.1}, {"x": 1702.3, "y": 1129.1},
      {"x": 1714.7, "y": 1129.1}, {"x": 1721.3, "y": 1129.1}, {"x": 1724.7, "y": 1129.1}, {"x": 1731.3, "y": 1122.4}, {"x": 1734.7, "y": 1132.5},
      {"x": 1728.0, "y": 1135.8}, {"x": 1764.3, "y": 1125.8}, {"x": 1757.7, "y": 1135.8}, {"x": 1777.3, "y": 1135.8}, {"x": 1797.3, "y": 1129.1},
      {"x": 1793.3, "y": 1135.8}, {"x": 1790.0, "y": 1139.2}, {"x": 1800.0, "y": 1139.2}, {"x": 1806.7, "y": 1135.8}, {"x": 1688.7, "y": 1139.2},
      {"x": 1695.3, "y": 1139.2}, {"x": 1708.7, "y": 1139.2}, {"x": 1741.3, "y": 1142.5}, {"x": 1751.3, "y": 1142.5}, {"x": 1754.7, "y": 1145.9},
      {"x": 1780.7, "y": 1145.9}, {"x": 1658.7, "y": 1142.5}, {"x": 1662.3, "y": 1145.9}, {"x": 1698.7, "y": 1149.2}, {"x": 1692.0, "y": 1152.6},
      {"x": 1705.3, "y": 1152.6}, {"x": 1738.0, "y": 1149.2}, {"x": 1784.0, "y": 1152.6}, {"x": 1787.3, "y": 1152.6}, {"x": 1748.0, "y": 1159.3},
      {"x": 1718.0, "y": 1165.6}, {"x": 1774.0, "y": 1165.6}, {"x": 1665.7, "y": 1162.6}, {"x": 1669.0, "y": 1169.3}, {"x": 1682.0, "y": 1176.0},
      {"x": 1682.0, "y": 1326.9}, {"x": 1679.0, "y": 1340.3}, {"x": 1672.3, "y": 1343.7}, {"x": 1734.7, "y": 1337.0}, {"x": 1748.0, "y": 1337.0},
      {"x": 1768.0, "y": 1337.0}, {"x": 1741.3, "y": 1343.7}, {"x": 1751.3, "y": 1347.0}, {"x": 1806.7, "y": 1347.0}, {"x": 1724.7, "y": 1350.4},
      {"x": 1698.7, "y": 1350.4}, {"x": 1777.3, "y": 1350.4}, {"x": 1649.3, "y": 1357.1}, {"x": 1738.0, "y": 1357.1}, {"x": 1803.3, "y": 1357.1},
      {"x": 1718.0, "y": 1357.1}, {"x": 1695.3, "y": 1360.5}, {"x": 1721.3, "y": 1363.8}, {"x": 1714.7, "y": 1366.7}, {"x": 1646.0, "y": 1366.7},
      {"x": 1652.7, "y": 1366.7}, {"x": 1656.0, "y": 1370.1}, {"x": 1659.3, "y": 1363.8}, {"x": 1662.7, "y": 1366.7}, {"x": 1666.0, "y": 1366.7},
      {"x": 1669.0, "y": 1366.7}, {"x": 1675.7, "y": 1366.7}, {"x": 1692.0, "y": 1370.1}, {"x": 1702.0, "y": 1370.1}, {"x": 1705.3, "y": 1373.9},
      {"x": 1754.7, "y": 1370.1}, {"x": 1758.0, "y": 1366.7}, {"x": 1764.0, "y": 1366.7}, {"x": 1744.7, "y": 1373.9}, {"x": 1770.7, "y": 1373.9},
      {"x": 1774.0, "y": 1377.2}, {"x": 1784.0, "y": 1373.9}, {"x": 1790.7, "y": 1370.1}, {"x": 1800.0, "y": 1373.9}, {"x": 1780.7, "y": 1380.6},
      {"x": 1787.3, "y": 1380.6}, {"x": 1793.3, "y": 1380.6}, {"x": 1796.7, "y": 1387.3}, {"x": 1685.3, "y": 1380.6}, {"x": 1688.7, "y": 1380.6},
      {"x": 1711.3, "y": 1380.6}, {"x": 1708.7, "y": 1383.5}, {"x": 1728.0, "y": 1377.2}, {"x": 1731.3, "y": 1383.5}, {"x": 1761.3, "y": 1390.2}
    ],
    "links": [
      {"x": 630.0, "y": 404.9, "x2": 180.0, "y2": 305.4},
      {"x": 464.2, "y": 462.6, "x2": 180.0, "y2": 458.4},
      {"x": 372.8, "y": 606.2, "x2": 180.0, "y2": 682.8},
      {"x": 652.2, "y": 1041.7, "x2": 188.3, "y2": 921.0},
      {"x": 470.2, "y": 1165.7, "x2": 188.3, "y2": 1074.8},
      {"x": 385.2, "y": 1253.3, "x2": 188.3, "y2": 1297.3},
      {"x": 1283.0, "y": 379.3, "x2": 1683.3, "y2": 214.0},
      {"x": 1348.4, "y": 482.1, "x2": 1683.3, "y2": 413.9},
      {"x": 1103.9, "y": 487.8, "x2": 1686.7, "y2": 634.2},
      {"x": 1238.6, "y": 1072.0, "x2": 1684.3, "y2": 904.2},
      {"x": 1348.8, "y": 1172.1, "x2": 1683.3, "y2": 1103.9},
      {"x": 1132.3, "y": 1170.9, "x2": 1686.7, "y2": 1324.3}
    ],
    "heads": [
      {"x": 180.0, "y": 305.4, "x2": 193.2, "y2": 315.0}, {"x": 180.0, "y": 305.4, "x2": 196.0, "y2": 302.3},
      {"x": 180.0, "y": 458.4, "x2": 194.9, "y2": 465.1}, {"x": 180.0, "y": 458.4, "x2": 195.1, "y2": 452.1},
      {"x": 180.0, "y": 682.8, "x2": 196.3, "y2": 683.3}, {"x": 180.0, "y": 682.8, "x2": 191.5, "y2": 671.2},
      {"x": 188.3, "y": 921.0, "x2": 201.2, "y2": 931.1}, {"x": 188.3, "y": 921.0, "x2": 204.4, "y2": 918.5},
      {"x": 188.3, "y": 1074.8, "x2": 200.6, "y2": 1085.6}, {"x": 188.3, "y": 1074.8, "x2": 204.6, "y2": 1073.2},
      {"x": 188.3, "y": 1297.3, "x2": 204.3, "y2": 1300.4}, {"x": 188.3, "y": 1297.3, "x2": 201.5, "y2": 1287.7},
      {"x": 1683.3, "y": 214.0, "x2": 1666.9, "y2": 213.7}, {"x": 1683.3, "y": 214.0, "x2": 1671.9, "y2": 225.7},
      {"x": 1683.3, "y": 413.9, "x2": 1667.3, "y2": 410.5}, {"x": 1683.3, "y": 413.9, "x2": 1669.9, "y2": 423.3},
      {"x": 1686.7, "y": 634.2, "x2": 1673.8, "y2": 624.2}, {"x": 1686.7, "y": 634.2, "x2": 1670.6, "y2": 636.8},
      {"x": 1684.3, "y": 904.2, "x2": 1668.0, "y2": 903.4}, {"x": 1684.3, "y": 904.2, "x2": 1672.6, "y2": 915.6},
      {"x": 1683.3, "y": 1103.9, "x2": 1667.3, "y2": 1100.5}, {"x": 1683.3, "y": 1103.9, "x2": 1669.9, "y2": 1113.3},
      {"x": 1686.7, "y": 1324.3, "x2": 1673.9, "y2": 1314.0}, {"x": 1686.7, "y": 1324.3, "x2": 1670.5, "y2": 1326.6}
    ],
    "titles": [
      {"x": 274, "y": 196, "label": "regional & local effect"},
      {"x": 934, "y": 196, "label": "local effect only"},
      {"x": 274, "y": 858, "label": "regional effect only"},
      {"x": 934, "y": 858, "label": "no effect"}
    ],
    "sidelabel": [
      {"x": 2026, "y": 406, "label": "fine-scale response"}
    ]
  },
  "encoding": {
    "x": {"field": "x", "type": "quantitative", "scale": {"domain": [0, 2091], "nice": false, "zero": false}, "axis": null},
    "y": {"field": "y", "type": "quantitative", "scale": {"domain": [0, 1467], "nice": false, "zero": false, "reverse": true}, "axis": null}
  },
  "layer": [
    {
      "data": {"name": "frames"},
      "mark": {"type": "rect", "fill": "#FFFFFF", "stroke": "#1a1a1a", "strokeWidth": 3, "clip": true},
      "encoding": {"x2": {"field": "x2"}, "y2": {"field": "y2"}}
    },
    {
      "data": {"name": "thumbs"},
      "mark": {"type": "rect", "fill": "#FFFFFF", "stroke": "#b0b0b0", "strokeWidth": 1.5, "clip": true},
      "encoding": {"x2": {"field": "x2"}, "y2": {"field": "y2"}}
    },
    {
      "data": {"name": "thumbs"},
      "mark": {"type": "rule", "stroke": "#4d4d4d", "strokeWidth": 1.5, "clip": true},
      "encoding": {"x2": {"field": "x2"}}
    },
    {
      "data": {"name": "thumbs"},
      "mark": {"type": "rule", "stroke": "#4d4d4d", "strokeWidth": 1.5, "clip": true},
      "encoding": {"y2": {"field": "y2"}}
    },
    {
      "data": {"name": "braces"},
      "mark": {"type": "line", "stroke": "#FFFFFF", "strokeWidth": 2.5, "clip": true},
      "encoding": {"detail": {"field": "brace"}, "order": {"field": "i", "type": "quantitative"}}
    },
    {
      "data": {"name": "dots"},
      "mark": {"type": "circle", "size": 480, "fill": "#808080", "opacity": 1}
    },
    {
      "data": {"name": "minidots"},
      "mark": {"type": "circle", "size": 30, "fill": "#808080", "opacity": 1}
    },
    {
      "data": {"name": "links"},
      "mark": {"type": "rule", "stroke": "#0000FF", "strokeWidth": 2},
      "encoding": {"x2": {"field": "x2"}, "y2": {"field": "y2"}}
    },
    {
      "data": {"name": "heads"},
      "mark": {"type": "rule", "stroke": "#0000FF", "strokeWidth": 3, "strokeCap": "round"},
      "encoding": {"x2": {"field": "x2"}, "y2": {"field": "y2"}}
    },
    {
      "data": {"name": "links"},
      "mark": {"type": "point", "shape": "diamond", "filled": true, "size": 190, "fill": "#0000FF", "opacity": 1}
    },
    {
      "data": {"name": "titles"},
      "mark": {"type": "text", "font": "Liberation Sans", "fontStyle": "italic", "fontSize": 53, "align": "left", "baseline": "alphabetic", "fill": "#000000"},
      "encoding": {"text": {"field": "label"}}
    },
    {
      "data": {"name": "sidelabel"},
      "mark": {"type": "text", "font": "Lato", "fontWeight": "bold", "fontSize": 91, "angle": 90, "align": "left", "baseline": "alphabetic", "fill": "#FFFFFF", "clip": true},
      "encoding": {"text": {"field": "label"}}
    }
  ]
}
